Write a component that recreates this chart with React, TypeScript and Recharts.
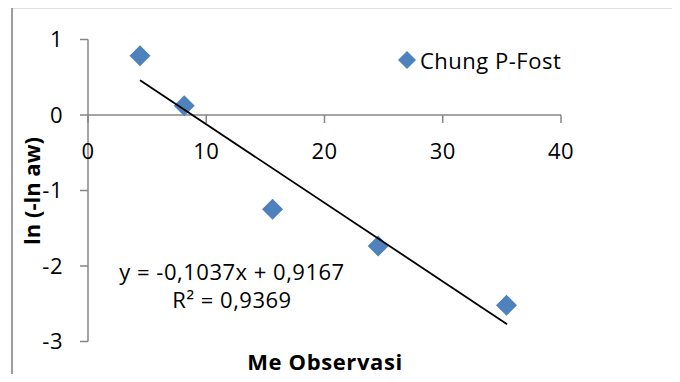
import { ScatterChart, Scatter, XAxis, YAxis, ReferenceLine, ReferenceDot } from "recharts"

const xValues = [4.4, 8.14, 15.61, 24.54, 35.39]
const yValues = [0.785, 0.123, -1.249, -1.735, -2.52]
const trendX = [4.4, 35.44]
const trendY = [0.46, -2.77]
const xTicks = [0, 10, 20, 30, 40]
const yTicks = [-3, -2, -1, 0, 1]
const seriesName = "Chung P-Fost"
const equation = "y = -0,1037x + 0,9167"
const rSquared = "R² = 0,9369"

const points = xValues.map((x, i) => ({ x, y: yValues[i] }))
const trend = trendX.map((x, i) => ({ x, y: trendY[i] }))

const FONT = "'Open Sans', sans-serif"
const AXIS = "#868686"
const BLUE = "#4F81BD"

const Diamond = (props: any) => {
  const { cx, cy } = props
  const r = 10.5
  return <polygon points={`${cx},${cy - r} ${cx + r},${cy} ${cx},${cy + r} ${cx - r},${cy}`} fill={BLUE} />
}

const XTick = (label: number) => (props: any) => {
  const { cx, cy } = props
  return (
    <g>
      <line x1={cx} y1={cy} x2={cx} y2={cy + 8} stroke={AXIS} strokeWidth={1.5} />
      <text x={cx} y={cy + 36} dy="0.35em" textAnchor="middle" fontFamily={FONT} fontSize={22} fill="#000" letterSpacing={0.5}>
        {label}
      </text>
    </g>
  )
}

export default function App() {
  return (
    <div style={{ position: "relative", width: 680, height: 382, margin: -8, overflow: "hidden", background: "#fff" }}>
      <ScatterChart width={680} height={382} margin={{ top: 39.5, right: 119, bottom: 40.5, left: 0 }}>
        <XAxis type="number" dataKey="x" domain={[0, 40]} ticks={xTicks} hide />
        <YAxis
          type="number"
          dataKey="y"
          domain={[-3, 1]}
          ticks={yTicks}
          width={88}
          tickSize={8}
          tickMargin={17}
          axisLine={{ stroke: AXIS, strokeWidth: 1.5 }}
          tickLine={{ stroke: AXIS, strokeWidth: 1.5 }}
          tick={{ fill: "#000", fontSize: 22, fontFamily: FONT, letterSpacing: 0.5 }}
        />
        <ReferenceLine y={0} stroke={AXIS} strokeWidth={1.5} />
        {xTicks.map((t) => (
          <ReferenceDot key={t} x={t} y={0} shape={XTick(t)} />
        ))}
        <Scatter name={seriesName} data={points} fill={BLUE} shape={<Diamond />} isAnimationActive={false} />
        <Scatter
          data={trend}
          line={{ stroke: "#000", strokeWidth: 1.8 }}
          shape={() => <g />}
          legendType="none"
          isAnimationActive={false}
        />
      </ScatterChart>
      <div
        style={{
          position: "absolute",
          left: 398,
          top: 45,
          display: "flex",
          alignItems: "center",
          fontFamily: FONT,
          fontSize: 22,
          letterSpacing: 0.5,
          color: "#000",
          lineHeight: "30px",
        }}
      >
        <svg width={18} height={18} style={{ marginRight: 4 }}>
          <polygon points="9,0 18,9 9,18 0,9" fill={BLUE} />
        </svg>
        {seriesName}
      </div>
      <svg width={680} height={382} style={{ position: "absolute", left: 0, top: 0, pointerEvents: "none" }}>
        <polyline points="12,382 12,7.5 680,7.5" fill="none" stroke="#7f7f7f" strokeWidth={1.5} />
        <text x={32} y={191} dy="0.35em" transform="rotate(-90 32 191)" textAnchor="middle" fontFamily={FONT} fontSize={22} fontWeight="bold" fill="#000">
          ln (-ln aw)
        </text>
        <text x={325} y={362} dy="0.35em" textAnchor="middle" fontFamily={FONT} fontSize={22} fontWeight="bold" fill="#000" letterSpacing={0.6}>
          Me Observasi
        </text>
        <text x={232} y={272} dy="0.35em" textAnchor="middle" fontFamily={FONT} fontSize={22} fill="#000" letterSpacing={0.5}>
          {equation}
        </text>
        <text x={232} y={300} dy="0.35em" textAnchor="middle" fontFamily={FONT} fontSize={22} fill="#000" letterSpacing={0.5}>
          {rSquared}
        </text>
      </svg>
    </div>
  )
}
